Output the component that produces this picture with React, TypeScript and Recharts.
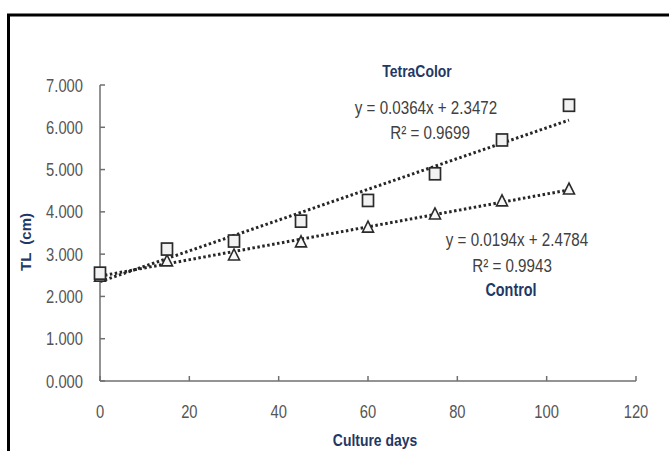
import { ComposedChart, Scatter, Line, XAxis, YAxis, Customized } from "recharts";

// culture days and total length (cm)
const days = [0, 15, 30, 45, 60, 75, 90, 105];
const tetraColorTL = [2.55, 3.12, 3.31, 3.78, 4.27, 4.9, 5.7, 6.52];
const controlTL = [2.48, 2.84, 2.98, 3.29, 3.64, 3.95, 4.26, 4.54];

// linear trendline end points (day 0 and day 105)
const trendDays = [0, 105];
const tetraColorTrend = [2.35, 6.17];
const controlTrend = [2.48, 4.52];

const xTicks = [0, 20, 40, 60, 80, 100, 120];
const yTicks = [0, 1, 2, 3, 4, 5, 6, 7];

const FONT = "'Liberation Sans', Arial, sans-serif";
const SQUEEZE = 0.82; // no Calibri here, so a squeezed Liberation Sans stands in
const AXIS_GREY = "#6f6f6f";
const LABEL_GREY = "#555555";
const EQ_GREY = "#404040";
const TITLE_BLUE = "#1f3864";

const tetraPoints = days.map((d, i) => ({ x: d, y: tetraColorTL[i] }));
const controlPoints = days.map((d, i) => ({ x: d, y: controlTL[i] }));
const tetraLine = trendDays.map((d, i) => ({ x: d, y: tetraColorTrend[i] }));
const controlLine = trendDays.map((d, i) => ({ x: d, y: controlTrend[i] }));

const NarrowText = ({ x, y, size, bold, fill, anchor = "middle", children }: any) => (
  <text
    transform={`translate(${x} ${y}) scale(${SQUEEZE} 1)`}
    textAnchor={anchor}
    dominantBaseline="central"
    fontFamily={FONT}
    fontSize={size}
    fontWeight={bold ? "bold" : "normal"}
    fill={fill}
  >
    {children}
  </text>
);

const XTick = ({ x, y, payload }: any) => (
  <NarrowText x={x} y={y} size={18} fill={LABEL_GREY}>
    {String(payload.value)}
  </NarrowText>
);

const YTick = ({ x, y, payload }: any) => (
  <NarrowText x={x} y={y} size={18} fill={LABEL_GREY} anchor="end">
    {Number(payload.value).toFixed(3)}
  </NarrowText>
);

const Square = (props: any) => {
  const { cx, cy } = props;
  return (
    <rect x={cx - 5.5} y={cy - 6} width={11} height={12} fill="#f2f2f2" stroke="#2b2b2b" strokeWidth={1.7} />
  );
};

const Triangle = (props: any) => {
  const { cx, cy } = props;
  return (
    <polygon
      points={`${cx},${cy - 6} ${cx - 5.5},${cy + 5} ${cx + 5.5},${cy + 5}`}
      fill="#f7f7f7"
      stroke="#2b2b2b"
      strokeWidth={1.6}
    />
  );
};

const Annotations = () => (
  <g>
    <line x1={8.5} y1={14} x2={8.5} y2={451} stroke="#000" strokeWidth={3} />
    <line x1={7} y1={15} x2={669} y2={15} stroke="#000" strokeWidth={3} />
    <NarrowText x={417} y={71} size={17} bold fill={TITLE_BLUE}>TetraColor</NarrowText>
    <NarrowText x={426} y={108} size={18.5} fill={EQ_GREY}>y = 0.0364x + 2.3472</NarrowText>
    <NarrowText x={430} y={133} size={18.5} fill={EQ_GREY}>R² = 0.9699</NarrowText>
    <NarrowText x={517} y={240} size={18.5} fill={EQ_GREY}>y = 0.0194x + 2.4784</NarrowText>
    <NarrowText x={512} y={266} size={18.5} fill={EQ_GREY}>R² = 0.9943</NarrowText>
    <NarrowText x={511} y={290} size={17.5} bold fill={TITLE_BLUE}>Control</NarrowText>
    <NarrowText x={375} y={440} size={17} bold fill={TITLE_BLUE}>Culture days</NarrowText>
    <text
      x={25}
      y={242}
      textAnchor="middle"
      dominantBaseline="central"
      fontFamily={FONT}
      fontSize={15}
      fontWeight="bold"
      fill={TITLE_BLUE}
      style={{ whiteSpace: "pre" }}
      transform="rotate(-90 25 242)"
    >
      {"TL  (cm)"}
    </text>
  </g>
);

export default function App() {
  return (
    <div style={{ position: "absolute", left: 0, top: 0, background: "#fff" }}>
      <ComposedChart width={669} height={451} margin={{ top: 85, right: 33, bottom: 40, left: 0 }}>
        <XAxis
          type="number"
          dataKey="x"
          domain={[0, 120]}
          ticks={xTicks}
          height={30}
          stroke={AXIS_GREY}
          strokeWidth={1.5}
          tickSize={-5}
          tickMargin={35}
          tick={<XTick />}
        />
        <YAxis
          type="number"
          dataKey="y"
          domain={[0, 7]}
          ticks={yTicks}
          width={100}
          stroke={AXIS_GREY}
          strokeWidth={1.5}
          tickSize={-5}
          tickMargin={22}
          tick={<YTick />}
        />
        <Scatter data={controlPoints} dataKey="y" shape={Triangle} isAnimationActive={false} />
        <Scatter data={tetraPoints} dataKey="y" shape={Square} isAnimationActive={false} />
        <Line
          data={controlLine}
          dataKey="y"
          type="linear"
          stroke="#262626"
          strokeWidth={3}
          strokeDasharray="2.5 2.5"
          dot={false}
          activeDot={false}
          isAnimationActive={false}
        />
        <Line
          data={tetraLine}
          dataKey="y"
          type="linear"
          stroke="#262626"
          strokeWidth={3}
          strokeDasharray="2.5 2.5"
          dot={false}
          activeDot={false}
          isAnimationActive={false}
        />
        <Customized component={Annotations} />
      </ComposedChart>
    </div>
  );
}
